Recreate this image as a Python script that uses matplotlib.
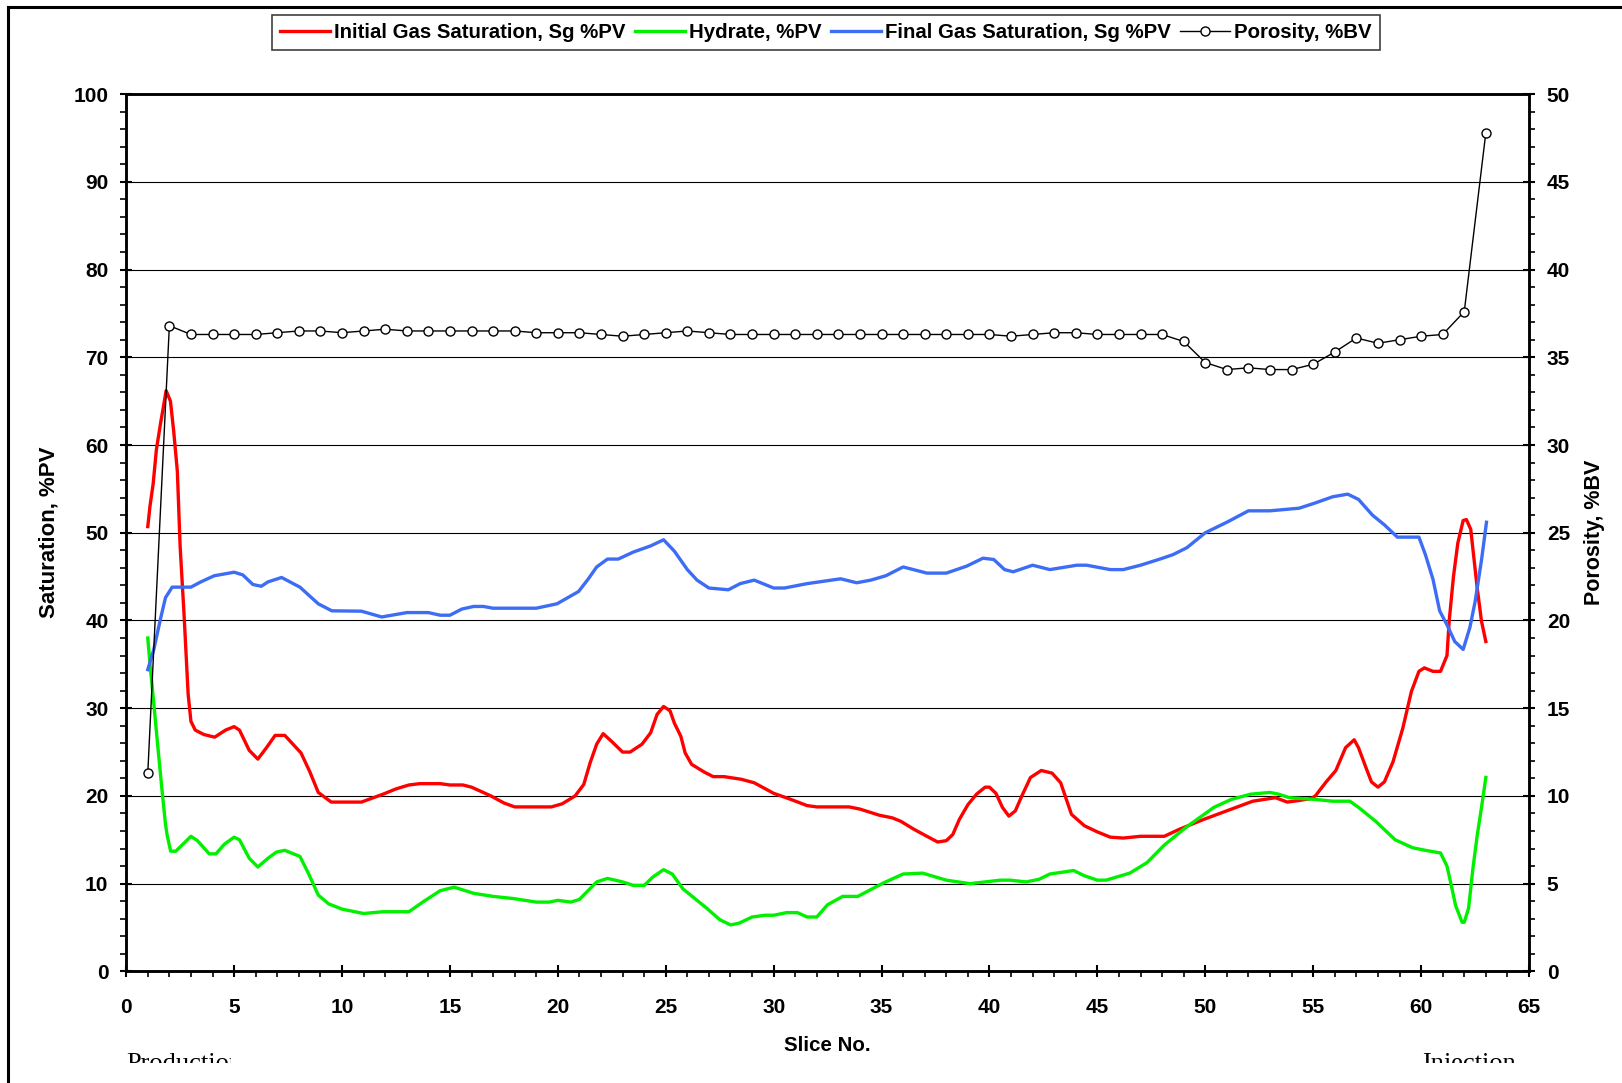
import matplotlib
matplotlib.use("Agg")
import matplotlib.pyplot as plt
from matplotlib.lines import Line2D
from matplotlib.patches import Rectangle
from matplotlib.ticker import MultipleLocator
from matplotlib import font_manager

# ---------------- data ----------------
porosity_slice = list(range(1, 64))
porosity = [11.3, 36.8, 36.3, 36.3, 36.3, 36.3, 36.4, 36.5, 36.5, 36.4,
            36.5, 36.6, 36.5, 36.5, 36.5, 36.5, 36.5, 36.5, 36.4, 36.4,
            36.4, 36.3, 36.2, 36.3, 36.4, 36.5, 36.4, 36.3, 36.3, 36.3,
            36.3, 36.3, 36.3, 36.3, 36.3, 36.3, 36.3, 36.3, 36.3, 36.3,
            36.2, 36.3, 36.4, 36.4, 36.3, 36.3, 36.3, 36.3, 35.9, 34.7,
            34.3, 34.4, 34.3, 34.3, 34.6, 35.3, 36.1, 35.8, 36.0, 36.2,
            36.3, 37.6, 47.8]

initial_x = [1.0, 1.1, 1.25, 1.4, 1.6, 1.7, 1.85, 2.05, 2.2, 2.37, 2.5, 2.68, 2.87,
             3.0, 3.2, 3.6, 4.1, 4.6, 5.0, 5.25, 5.7, 6.1, 6.5, 6.9, 7.35, 8.1, 8.5,
             8.9, 9.5, 10.9, 11.9, 12.5, 13.1, 13.6, 14.55, 15.0, 15.6, 16.0, 16.9,
             17.5, 18.0, 19.7, 20.2, 20.8, 21.2, 21.5, 21.8, 22.1, 22.5, 23.0, 23.35,
             23.9, 24.3, 24.6, 24.9, 25.2, 25.4, 25.7, 25.9, 26.2, 26.8, 27.2, 27.7,
             28.5, 29.1, 30.0, 30.8, 31.55, 32.0, 33.5, 34.0, 34.9, 35.5, 35.9, 36.5,
             37.1, 37.6, 38.0, 38.3, 38.6, 39.0, 39.4, 39.8, 40.0, 40.3, 40.6, 40.9,
             41.2, 41.5, 41.9, 42.4, 42.9, 43.3, 43.8, 44.4, 45.0, 45.6, 46.2, 47.0,
             48.1, 48.8, 49.9, 51.0, 52.2, 53.25, 53.8, 54.4, 54.9, 55.1, 55.6, 56.05,
             56.5, 56.9, 57.1, 57.45, 57.7, 58.0, 58.3, 58.7, 59.15, 59.55, 59.9,
             60.15, 60.55, 60.9, 61.2, 61.3, 61.5, 61.7, 61.95, 62.1, 62.3, 62.4,
             62.6, 62.8, 63.0]
initial_sg = [50.7, 53.0, 55.6, 59.5, 62.6, 64.0, 66.2, 65.0, 61.6, 57.0, 48.4, 40.7, 31.6,
              28.5, 27.5, 27.0, 26.7, 27.5, 27.9, 27.5, 25.2, 24.2, 25.5, 26.9, 26.9, 24.9, 22.8,
              20.4, 19.3, 19.3, 20.2, 20.8, 21.25, 21.4, 21.4, 21.25, 21.25, 21.0, 20.0,
              19.2, 18.75, 18.75, 19.1, 20.0, 21.3, 23.8, 25.9, 27.1, 26.2, 25.0, 25.0,
              25.9, 27.2, 29.3, 30.2, 29.7, 28.3, 26.8, 24.9, 23.6, 22.7, 22.2, 22.2,
              21.9, 21.5, 20.3, 19.6, 18.9, 18.75, 18.75, 18.5, 17.8, 17.5, 17.1, 16.2,
              15.4, 14.75, 14.9, 15.6, 17.3, 19.0, 20.2, 21.0, 21.0, 20.3, 18.7, 17.7,
              18.3, 20.0, 22.1, 22.9, 22.6, 21.5, 17.9, 16.6, 15.9, 15.3, 15.2, 15.4,
              15.4, 16.2, 17.3, 18.3, 19.4, 19.8, 19.3, 19.5, 19.7, 20.0, 21.6, 22.9,
              25.5, 26.4, 25.5, 23.2, 21.6, 21.0, 21.6, 23.9, 27.7, 31.9, 34.2,
              34.6, 34.2, 34.2, 36.0, 39.9, 45.0, 48.8, 51.4, 51.5, 50.4, 48.2,
              43.7, 39.9, 37.6]

hydrate_x = [1.0, 1.12, 1.28, 1.47, 1.67, 1.82, 1.9, 2.06, 2.3, 3.0, 3.3, 3.85, 4.16,
             4.55, 5.0, 5.25, 5.7, 6.1, 6.57, 6.96, 7.35, 8.05, 8.44, 8.9, 9.38, 10.0,
             11.0, 11.9, 13.1, 13.8, 14.55, 15.2, 16.1, 17.0, 17.95, 19.0, 19.6, 20.0,
             20.6, 21.0, 21.4, 21.8, 22.3, 23.0, 23.5, 24.0, 24.4, 24.9, 25.3, 25.8,
             26.4, 26.9, 27.5, 28.0, 28.4, 29.0, 29.6, 30.0, 30.6, 31.1, 31.55, 32.0,
             32.5, 33.2, 33.9, 35.1, 36.0, 36.9, 38.0, 39.1, 40.5, 40.95, 41.7, 42.3,
             42.8, 43.9, 44.4, 45.0, 45.4, 46.5, 47.3, 48.1, 49.15, 50.4, 51.2, 52.1,
             53.0, 53.4, 53.9, 55.1, 55.9, 56.7, 57.1, 57.9, 58.8, 59.6, 60.2, 60.9,
             61.2, 61.4, 61.6, 61.9, 62.0, 62.2, 62.4, 62.6, 62.8, 63.0]
hydrate = [38.0, 34.6, 30.5, 25.5, 20.4, 16.8, 15.5, 13.7, 13.7, 15.4, 14.9, 13.4, 13.4,
           14.5, 15.3, 15.0, 12.9, 11.9, 12.9, 13.6, 13.8, 13.1, 11.2, 8.7, 7.7, 7.1,
           6.6, 6.8, 6.8, 8.0, 9.2, 9.6, 8.9, 8.55, 8.3, 7.9, 7.9, 8.1,
           7.9, 8.2, 9.2, 10.2, 10.6, 10.2, 9.8, 9.8, 10.75, 11.6, 11.1, 9.4,
           8.2, 7.2, 5.9, 5.3, 5.5, 6.2, 6.4, 6.4, 6.7, 6.7, 6.2, 6.2,
           7.6, 8.55, 8.55, 10.1, 11.1, 11.2, 10.4, 10.0, 10.4, 10.4, 10.2, 10.5,
           11.1, 11.5, 10.9, 10.4, 10.4, 11.2, 12.4, 14.4, 16.5, 18.7, 19.6, 20.2,
           20.4, 20.2, 19.8, 19.6, 19.4, 19.4, 18.7, 17.1, 15.0, 14.1, 13.8, 13.5,
           12.0, 9.8, 7.5, 5.6, 5.6, 7.2, 11.7, 15.5, 18.7, 22.1]

final_x = [1.0, 1.28, 1.59, 1.82, 2.13, 3.0, 3.46, 4.08, 5.0, 5.4, 5.87, 6.26, 6.57,
           7.2, 8.05, 8.9, 9.53, 10.9, 11.84, 13.0, 14.0, 14.55, 15.0, 15.55, 16.1,
           16.55, 17.0, 19.0, 19.96, 20.96, 21.4, 21.8, 22.3, 22.8, 23.5, 24.3, 24.9,
           25.4, 26.0, 26.45, 27.0, 27.9, 28.45, 29.1, 30.0, 30.5, 31.55, 33.1, 33.85,
           34.5, 35.2, 36.0, 37.1, 38.0, 38.95, 39.7, 40.2, 40.7, 41.1, 42.0, 42.8,
           44.05, 44.5, 45.6, 46.2, 47.0, 47.9, 48.5, 49.15, 50.0, 51.0, 52.0, 53.0,
           54.35, 55.1, 55.9, 56.6, 57.1, 57.75, 58.3, 58.9, 59.9, 60.2, 60.55, 60.86,
           61.2, 61.56, 61.95, 62.26, 62.5, 62.8, 63.03]
final_sg = [34.4, 36.7, 40.2, 42.6, 43.8, 43.8, 44.4, 45.1, 45.5, 45.2, 44.1, 43.9, 44.4,
            44.9, 43.8, 41.9, 41.1, 41.06, 40.4, 40.9, 40.9, 40.6, 40.6, 41.3, 41.6,
            41.6, 41.4, 41.4, 41.9, 43.3, 44.7, 46.1, 47.0, 47.0, 47.8, 48.5, 49.2,
            47.9, 45.8, 44.6, 43.7, 43.5, 44.2, 44.6, 43.7, 43.7, 44.2, 44.75, 44.3,
            44.6, 45.1, 46.1, 45.4, 45.4, 46.2, 47.1, 46.95, 45.8, 45.55, 46.3, 45.8,
            46.3, 46.3, 45.8, 45.8, 46.3, 47.0, 47.5, 48.3, 50.0, 51.2, 52.5, 52.5,
            52.8, 53.4, 54.1, 54.4, 53.8, 52.0, 50.9, 49.5, 49.5, 47.5, 44.7, 41.1,
            39.5, 37.6, 36.7, 39.2, 42.1, 46.9, 51.2]

legend_labels = ["Initial Gas Saturation, Sg %PV", "Hydrate, %PV",
                 "Final Gas Saturation, Sg %PV", "Porosity, %BV"]

# ---------------- fonts ----------------
names = {f.name for f in font_manager.fontManager.ttflist}
narrow = "Liberation Sans Narrow" if "Liberation Sans Narrow" in names else "Liberation Sans"
plt.rcParams["font.family"] = ["Liberation Sans", "DejaVu Sans"]

W, H = 1622, 1083
fig = plt.figure(figsize=(W / 100, H / 100), dpi=100)
ax = fig.add_axes([126.2 / W, 1 - 971.4 / H, (1529 - 126.2) / W, (971.4 - 94.1) / H])
ax2 = ax.twinx()

red, green, blue = "#FF0000", "#00F000", "#3D6CF5"
l1, = ax.plot(initial_x, initial_sg, color=red, lw=2.4, solid_joinstyle="round", zorder=3)
l2, = ax.plot(hydrate_x, hydrate, color=green, lw=2.4, solid_joinstyle="round", zorder=3)
l3, = ax.plot(final_x, final_sg, color=blue, lw=2.4, solid_joinstyle="round", zorder=3)
l4, = ax2.plot(porosity_slice, porosity, color="black", lw=1.0, marker="o",
               markersize=6.5, markerfacecolor="white", markeredgecolor="black",
               markeredgewidth=1.0, zorder=4)

ax.set_xlim(0, 65)
ax.set_ylim(0, 100)
ax2.set_ylim(0, 50)
ax.xaxis.set_major_locator(MultipleLocator(5))
ax.xaxis.set_minor_locator(MultipleLocator(1))
ax.yaxis.set_major_locator(MultipleLocator(10))
ax.yaxis.set_minor_locator(MultipleLocator(2))
ax2.yaxis.set_major_locator(MultipleLocator(5))
ax2.yaxis.set_minor_locator(MultipleLocator(1))

ax.grid(axis="y", which="major", color="black", lw=0.8)
ax.set_axisbelow(True)

for a in (ax, ax2):
    for s in a.spines.values():
        s.set_linewidth(1.8)
    a.tick_params(which="major", direction="inout", length=8.6, width=1.5,
                  labelsize=15)
    a.tick_params(which="minor", direction="out", length=4.3, width=1.2)
ax.tick_params(axis="x", which="major", pad=14.5)
ax.tick_params(axis="y", which="major", pad=8.5)
ax2.tick_params(axis="y", which="major", pad=8.5)
for lab in ax.get_xticklabels() + ax.get_yticklabels() + ax2.get_yticklabels():
    lab.set_fontweight("bold")

ax.set_xlabel("Slice No.", fontsize=14.8, fontweight="bold", labelpad=14)
ax.set_ylabel("Saturation, %PV", fontsize=16, fontweight="bold", labelpad=10)
ax2.set_ylabel("Porosity, %BV", fontsize=15.5, fontweight="bold", labelpad=10)

leg = fig.legend([l1, l2, l3, l4], legend_labels, loc="center",
                 bbox_to_anchor=(826 / W, 1 - 32.5 / H), ncol=4, frameon=True,
                 fancybox=False, edgecolor="#404040", framealpha=1,
                 handlelength=2.45, handletextpad=0.2, columnspacing=0.45,
                 borderpad=0.38, borderaxespad=0,
                 prop={"family": [narrow, "DejaVu Sans"], "weight": "bold", "size": 14.7})
leg.get_frame().set_linewidth(1.2)

# outer frame of the original picture
fig.add_artist(Line2D([8 / W, 8 / W], [0, 1 - 7 / H], color="black", lw=2.2,
                      transform=fig.transFigure))
fig.add_artist(Line2D([8 / W, 1], [1 - 7 / H, 1 - 7 / H], color="black", lw=2.2,
                      transform=fig.transFigure))

# clipped bottom annotations
t1 = fig.text(126 / W, 1 - 1053 / H, "Production", fontsize=19, va="top", ha="left",
              family=["Liberation Serif", "DejaVu Serif"])
t1.set_clip_path(Rectangle((0, 1 - 1063 / H), 231 / W, 1, transform=fig.transFigure))
t2 = fig.text(1422 / W, 1 - 1053 / H, "Injection", fontsize=19, va="top", ha="left",
              family=["Liberation Serif", "DejaVu Serif"])
t2.set_clip_path(Rectangle((0, 1 - 1063 / H), 1, 1, transform=fig.transFigure))

fig.savefig("out.png", dpi=100)
